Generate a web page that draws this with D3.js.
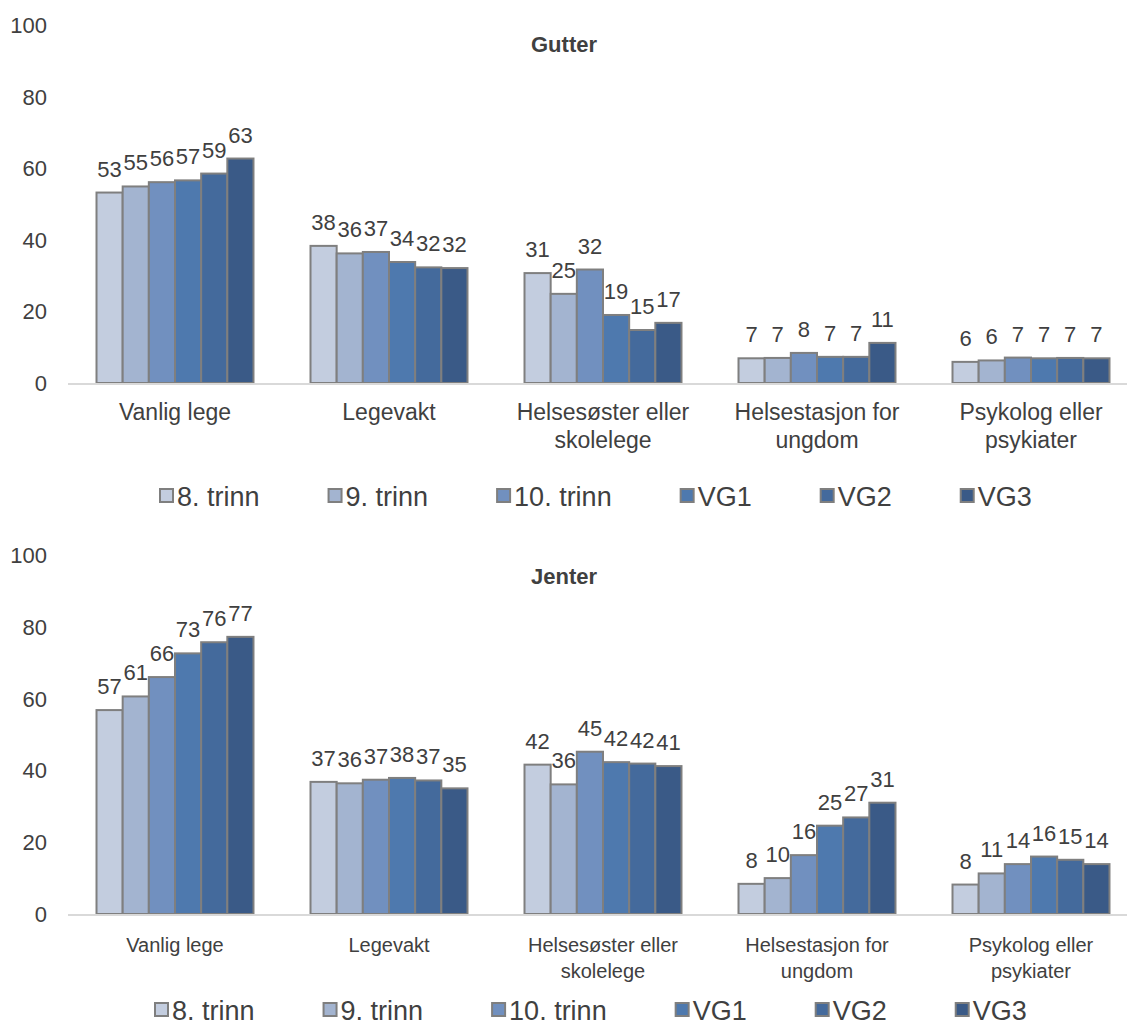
<!DOCTYPE html>
<html>
<head>
<meta charset="utf-8">
<script src="https://cdn.jsdelivr.net/npm/d3@7"></script>
<style>
  html, body { margin: 0; padding: 0; background: #fff; }
  svg { display: block; }
  text { font-family: "Liberation Sans", Arial, sans-serif; fill: #404040; }
</style>
</head>
<body>
<svg id="chart" width="1127" height="1027"></svg>
<script>
// ---- data ----
const categories = [
  ["Vanlig lege"],
  ["Legevakt"],
  ["Helsesøster eller", "skolelege"],
  ["Helsestasjon for", "ungdom"],
  ["Psykolog eller", "psykiater"]
];
const seriesNames = ["8. trinn", "9. trinn", "10. trinn", "VG1", "VG2", "VG3"];
const seriesColors = ["#c3cddf", "#a3b4d0", "#7190bf", "#4e79ae", "#446a9c", "#3a5a87"];
const yTicks = [0, 20, 40, 60, 80, 100];

// values per category, in series order
const gutterValues = [
  [53.2, 54.9, 56.1, 56.6, 58.5, 62.7],
  [38.3, 36.2, 36.6, 33.8, 32.3, 32.1],
  [30.7, 24.9, 31.7, 19.0, 14.8, 16.8],
  [6.9, 7.0, 8.4, 7.3, 7.3, 11.2],
  [5.9, 6.3, 7.1, 6.9, 7.0, 6.9]
];
const jenterValues = [
  [56.8, 60.6, 66.0, 72.6, 75.7, 77.2],
  [36.8, 36.4, 37.4, 37.9, 37.2, 35.0],
  [41.6, 36.1, 45.2, 42.3, 41.9, 41.2],
  [8.4, 10.0, 16.4, 24.6, 26.9, 31.0],
  [8.2, 11.3, 13.9, 16.0, 15.1, 13.9]
];

// ---- drawing ----
const svg = d3.select("#chart");
const catKeys = categories.map((c, i) => i);

const x0 = d3.scaleBand().domain(catKeys).range([68, 1138])
  .paddingInner(0.2664).paddingOuter(0.1332);
const x1 = d3.scaleBand().domain(seriesNames).range([0, x0.bandwidth()]).padding(0);
const color = d3.scaleOrdinal().domain(seriesNames).range(seriesColors);

function drawPanel(opt) {
  const g = svg.append("g");
  const y = d3.scaleLinear().domain([0, 100]).range([opt.zeroY, opt.topY]);

  // y tick labels
  g.selectAll("text.ytick").data(yTicks).enter().append("text")
    .attr("class", "ytick")
    .attr("x", 47).attr("y", d => y(d) + 8)
    .attr("text-anchor", "end")
    .style("font-size", "22px")
    .text(d => d);

  // title
  g.append("text")
    .attr("x", 564).attr("y", opt.titleY)
    .attr("text-anchor", "middle")
    .style("font-size", "22px").style("font-weight", "bold")
    .text(opt.title);

  // bars
  const groups = g.selectAll("g.cat").data(opt.values).enter().append("g")
    .attr("class", "cat")
    .attr("transform", (d, i) => `translate(${x0(i)},0)`);

  groups.selectAll("rect").data(d => d.map((v, j) => ({ name: seriesNames[j], v })))
    .enter().append("rect")
    .attr("x", d => x1(d.name))
    .attr("width", x1.bandwidth())
    .attr("y", d => y(d.v))
    .attr("height", d => y(0) - y(d.v))
    .attr("fill", d => color(d.name))
    .attr("stroke", "#7f7f7f")
    .attr("stroke-width", 2);

  groups.selectAll("text.val").data(d => d.map((v, j) => ({ name: seriesNames[j], v })))
    .enter().append("text")
    .attr("class", "val")
    .attr("x", d => x1(d.name) + x1.bandwidth() / 2)
    .attr("y", d => y(d.v) - 16)
    .attr("text-anchor", "middle")
    .style("font-size", "22px")
    .text(d => Math.round(d.v));

  // x axis line
  g.append("line")
    .attr("x1", 68).attr("x2", 1138)
    .attr("y1", y(0) + 1).attr("y2", y(0) + 1)
    .attr("stroke", "#d9d9d9").attr("stroke-width", 2);

  // category labels
  const cl = g.selectAll("text.cat").data(categories).enter().append("text")
    .attr("class", "cat")
    .attr("text-anchor", "middle")
    .style("font-size", opt.catFont + "px")
    .attr("x", (d, i) => x0(i) + x0.bandwidth() / 2)
    .attr("y", opt.catY);
  cl.selectAll("tspan").data(d => d).enter().append("tspan")
    .attr("x", function () { return d3.select(this.parentNode).attr("x"); })
    .attr("dy", (d, i) => i === 0 ? 0 : opt.catLine)
    .text(d => d);

  // legend
  const lg = g.append("g").attr("transform", `translate(0,${opt.legendY})`);
  let cx = opt.legendX;
  seriesNames.forEach((name, i) => {
    lg.append("rect")
      .attr("x", cx).attr("y", -17).attr("width", 13).attr("height", 13)
      .attr("fill", color(name)).attr("stroke", "#7f7f7f").attr("stroke-width", 2);
    const t = lg.append("text")
      .attr("x", cx + 17).attr("y", 0)
      .style("font-size", "27px")
      .text(name);
    const w = t.node().getComputedTextLength();
    cx = cx + 17 + w + 69;
  });
}

drawPanel({
  title: "Gutter", values: gutterValues,
  zeroY: 383, topY: 25, titleY: 52,
  catY: 420, catLine: 28, catFont: 23,
  legendY: 506, legendX: 160
});
drawPanel({
  title: "Jenter", values: jenterValues,
  zeroY: 914, topY: 555, titleY: 584,
  catY: 952, catLine: 26, catFont: 20,
  legendY: 1020, legendX: 155
});
</script>
</body>
</html>
